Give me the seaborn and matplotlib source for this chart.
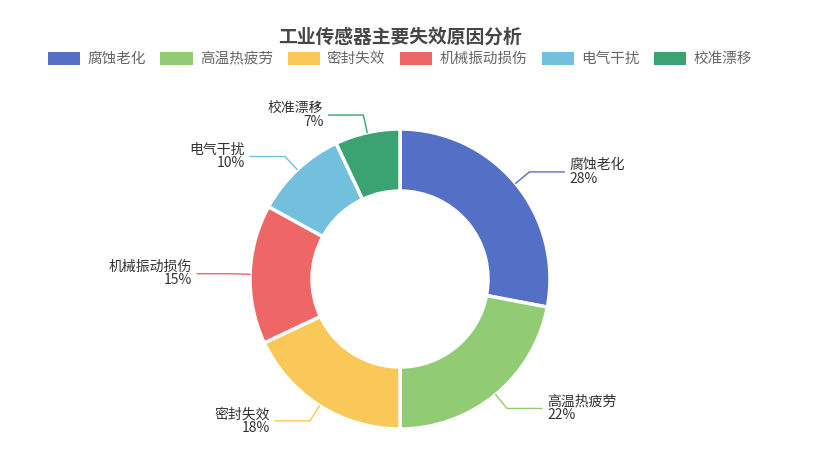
import numpy as np
import matplotlib
matplotlib.use("Agg")
import matplotlib.pyplot as plt
import seaborn as sns
from matplotlib.patches import Patch

categories = ["腐蚀老化", "高温热疲劳", "密封失效", "机械振动损伤", "电气干扰", "校准漂移"]
values = [28, 22, 18, 15, 10, 7]
colors = ["#5470c6", "#91cc75", "#fac858", "#ee6666", "#73c0de", "#3ba272"]

sns.set_theme(style="white")
plt.rcParams['font.family'] = ['Noto Sans CJK SC', 'DejaVu Sans']

W, H = 816, 476
fig = plt.figure(figsize=(W/100, H/100), dpi=100)
ax = fig.add_axes([0, 0, 1, 1])
ax.set_xlim(0, W); ax.set_ylim(0, H); ax.set_aspect('equal'); ax.axis('off')

cx, cy, R, r = 400, H-279, 150, 88
wedges, _ = ax.pie(values, colors=colors, startangle=90, counterclock=False,
                   center=(cx, cy), radius=R, frame=True,
                   wedgeprops=dict(width=R-r, edgecolor='white', linewidth=2.5))
ax.set_xlim(0, W); ax.set_ylim(0, H); ax.axis('off')

total = sum(values)
cum = 0
for cat, v, c in zip(categories, values, colors):
    mid = 90 - (cum + v/2)/total*360
    cum += v
    a = np.deg2rad(mid)
    x0, y0 = cx + R*np.cos(a), cy + R*np.sin(a)
    x1, y1 = cx + (R+18)*np.cos(a), cy + (R+18)*np.sin(a)
    side = 1 if np.cos(a) >= 0 else -1
    x2 = x1 + side*35
    ax.plot([x0, x1, x2], [y0, y1, y1], color=c, lw=1)
    ax.text(x2 + side*5, y1, f"{cat}\n{v}%", ha='left' if side > 0 else 'right',
            va='center', fontsize=10, color='#333333', linespacing=0.95)

fig.text(400/W, 1-37/H, "工业传感器主要失效原因分析", ha='center', va='center',
         fontsize=13.5, fontweight='bold', color='#464646')
handles = [Patch(facecolor=c, edgecolor='none') for c in colors]
fig.legend(handles, categories, loc='center', bbox_to_anchor=(400/W, 1-59/H), ncol=6,
           frameon=False, fontsize=10.5, labelcolor='#666666', handlelength=2.2,
           handleheight=1.0, columnspacing=1.0, handletextpad=0.5)
fig.savefig("out.png", dpi=100)
